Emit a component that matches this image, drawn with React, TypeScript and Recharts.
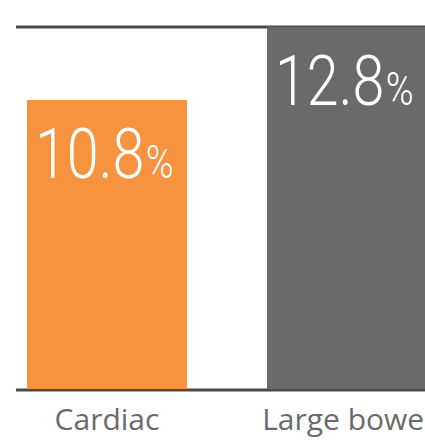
import { BarChart, Bar, XAxis, YAxis, CartesianGrid, Cell, LabelList } from "recharts";

const categories = ["Cardiac", "Large bowel"];
const rates = [10.8, 12.8];
const barColors = ["#F7923F", "#6A6A6A"];

const data = categories.map((name, i) => ({ name, rate: rates[i] }));

function ValueLabel(props: any) {
  const { x, y, value } = props;
  const tx = Number(x) + 8;
  const ty = Number(y) + 78;
  return (
    <text
      transform={`translate(${tx} ${ty}) scale(0.82 1)`}
      fill="#ffffff"
      fontFamily="Roboto, 'Open Sans', sans-serif"
      fontWeight={300}
      fontSize={70}
    >
      {value}
      <tspan fontSize={46} dx={2}>%</tspan>
    </text>
  );
}

export default function App() {
  return (
    <div style={{ position: "absolute", left: 0, top: 0, width: 425, height: 441, overflow: "hidden", background: "#fff" }}>
      <BarChart
        width={467}
        height={441}
        data={data}
        margin={{ top: 27, right: 0, left: 16, bottom: 0 }}
      >
        <CartesianGrid vertical={false} stroke="#4a4a4a" strokeWidth={3} />
        <YAxis hide domain={[2.85, 12.8]} ticks={[12.8]} />
        <XAxis
          dataKey="name"
          height={51}
          padding={{ left: -29, right: 0 }}
          axisLine={{ stroke: "#4a4a4a", strokeWidth: 2 }}
          tickLine={false}
          tickMargin={13}
          interval={0}
          tick={{ fill: "#6b6b6b", fontSize: 30, fontFamily: "'Open Sans', sans-serif" }}
        />
        <Bar dataKey="rate" barSize={160} isAnimationActive={false}>
          {data.map((d, i) => (
            <Cell key={d.name} fill={barColors[i]} />
          ))}
          <LabelList dataKey="rate" content={ValueLabel} />
        </Bar>
      </BarChart>
    </div>
  );
}
